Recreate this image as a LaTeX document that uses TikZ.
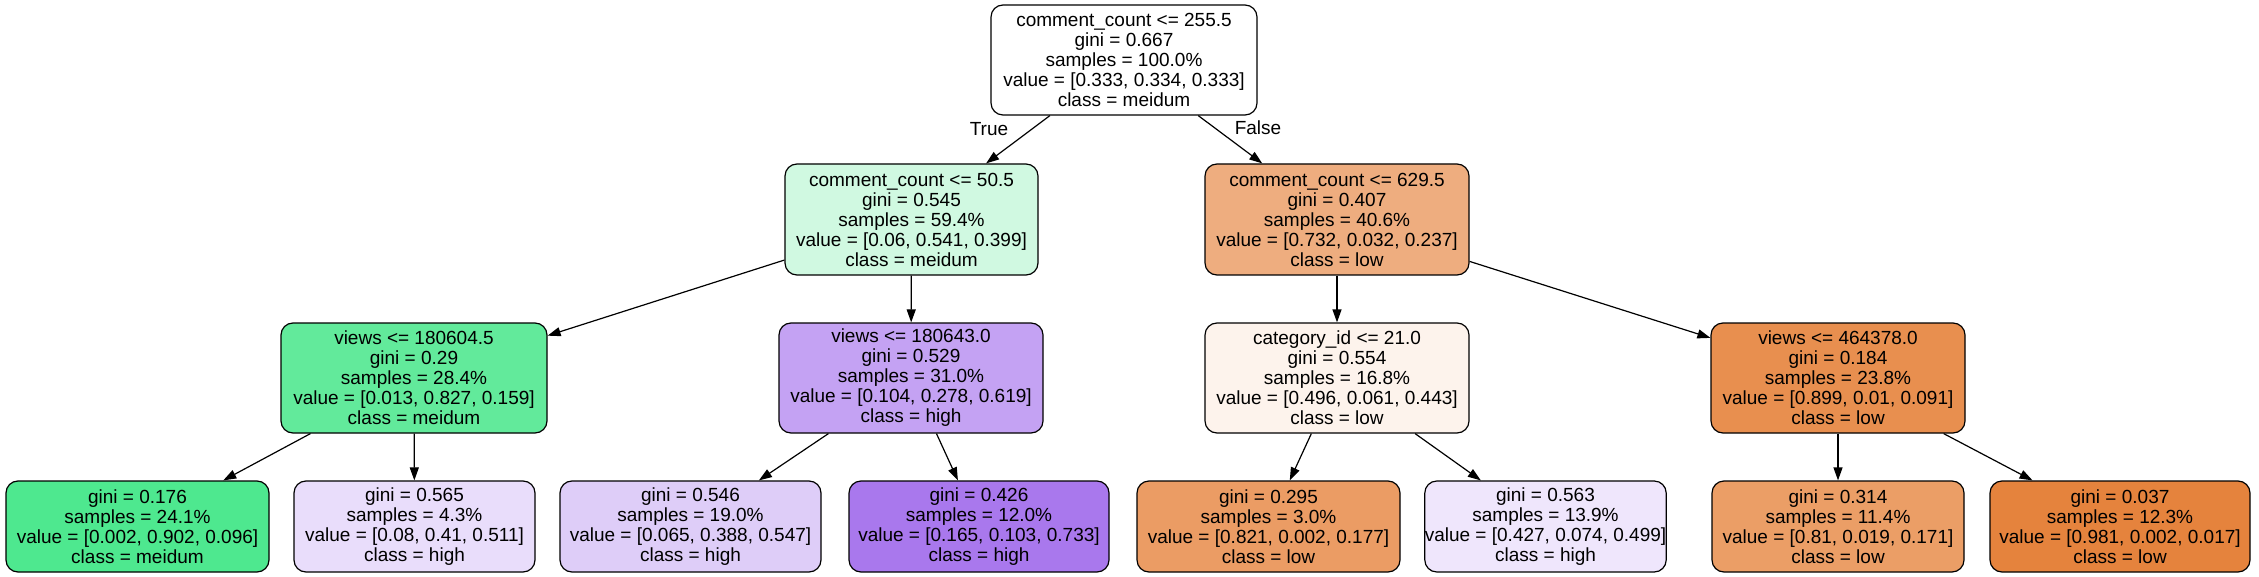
\documentclass[tikz,border=0pt]{standalone}
\usepackage{fontspec}
\setmainfont{Liberation Sans}
\usetikzlibrary{arrows.meta}
\definecolor{cRoot}{HTML}{FFFFFF}
\definecolor{cLa}{HTML}{D0F9E1}
\definecolor{cLb}{HTML}{EEAD7F}
\definecolor{cTa}{HTML}{62EA9B}
\definecolor{cTb}{HTML}{C4A2F3}
\definecolor{cTc}{HTML}{FDF3EC}
\definecolor{cTd}{HTML}{E88F4F}
\definecolor{cF1}{HTML}{4EE88F}
\definecolor{cF2}{HTML}{E9DDFB}
\definecolor{cF3}{HTML}{DECDF8}
\definecolor{cF4}{HTML}{A978ED}
\definecolor{cF5}{HTML}{EB9C64}
\definecolor{cF6}{HTML}{EFE6FC}
\definecolor{cF7}{HTML}{EB9E66}
\definecolor{cF8}{HTML}{E5833D}
\tikzset{
  treenode/.style={draw=black, line width=1.2pt, rounded corners=12pt, inner sep=0pt,
    align=center, font=\fontsize{19}{20}\selectfont},
  inner/.style={treenode, minimum height=110pt},
  leaf/.style={treenode, minimum height=91pt},
  edge/.style={line width=1.2pt, -{Triangle[length=13pt,width=9pt]}},
  lbl/.style={font=\fontsize{19}{20}\selectfont, inner sep=0pt}
}
\begin{document}
\begin{tikzpicture}[x=1pt,y=1pt]
\useasboundingbox (0,0) rectangle (2259,-577);
% root
\node[inner, fill=cRoot, minimum width=266pt] (root) at (1124,-60) {comment\_count <= 255.5\\gini = 0.667\\samples = 100.0\%\\value = [0.333, 0.334, 0.333]\\class = meidum};
% level 2
\node[inner, fill=cLa, minimum width=253pt, minimum height=111pt] (la) at (911.5,-219.5) {comment\_count <= 50.5\\gini = 0.545\\samples = 59.4\%\\value = [0.06, 0.541, 0.399]\\class = meidum};
\node[inner, fill=cLb, minimum width=264pt, minimum height=111pt] (lb) at (1337,-219.5) {comment\_count <= 629.5\\gini = 0.407\\samples = 40.6\%\\value = [0.732, 0.032, 0.237]\\class = low};
% level 3
\node[inner, fill=cTa, minimum width=266pt] (ta) at (414,-378) {views <= 180604.5\\gini = 0.29\\samples = 28.4\%\\value = [0.013, 0.827, 0.159]\\class = meidum};
\node[inner, fill=cTb, minimum width=264pt] (tb) at (911,-378) {views <= 180643.0\\gini = 0.529\\samples = 31.0\%\\value = [0.104, 0.278, 0.619]\\class = high};
\node[inner, fill=cTc, minimum width=264pt] (tc) at (1337,-378) {category\_id <= 21.0\\gini = 0.554\\samples = 16.8\%\\value = [0.496, 0.061, 0.443]\\class = low};
\node[inner, fill=cTd, minimum width=254pt] (td) at (1838,-378) {views <= 464378.0\\gini = 0.184\\samples = 23.8\%\\value = [0.899, 0.01, 0.091]\\class = low};
% leaves
\node[leaf, fill=cF1, minimum width=263pt] (f1) at (137.5,-526.5) {gini = 0.176\\samples = 24.1\%\\value = [0.002, 0.902, 0.096]\\class = meidum};
\node[leaf, fill=cF2, minimum width=241pt] (f2) at (414.5,-526.5) {gini = 0.565\\samples = 4.3\%\\value = [0.08, 0.41, 0.511]\\class = high};
\node[leaf, fill=cF3, minimum width=261pt] (f3) at (690.5,-526.5) {gini = 0.546\\samples = 19.0\%\\value = [0.065, 0.388, 0.547]\\class = high};
\node[leaf, fill=cF4, minimum width=260pt] (f4) at (979,-526.5) {gini = 0.426\\samples = 12.0\%\\value = [0.165, 0.103, 0.733]\\class = high};
\node[leaf, fill=cF5, minimum width=263pt] (f5) at (1268.5,-526.5) {gini = 0.295\\samples = 3.0\%\\value = [0.821, 0.002, 0.177]\\class = low};
\node[leaf, fill=cF6, minimum width=241pt] (f6) at (1545.5,-526.5) {gini = 0.563\\samples = 13.9\%\\value = [0.427, 0.074, 0.499]\\class = high};
\node[leaf, fill=cF7, minimum width=252pt] (f7) at (1838,-526.5) {gini = 0.314\\samples = 11.4\%\\value = [0.81, 0.019, 0.171]\\class = low};
\node[leaf, fill=cF8, minimum width=260pt] (f8) at (2120,-526.5) {gini = 0.037\\samples = 12.3\%\\value = [0.981, 0.002, 0.017]\\class = low};
% edges
\draw[edge] (root) -- (la);
\draw[edge] (root) -- (lb);
\draw[edge] (la) -- (ta);
\draw[edge] (la) -- (tb);
\draw[edge] (lb) -- (tc);
\draw[edge] (lb) -- (td);
\draw[edge] (ta) -- (f1);
\draw[edge] (ta) -- (f2);
\draw[edge] (tb) -- (f3);
\draw[edge] (tb) -- (f4);
\draw[edge] (tc) -- (f5);
\draw[edge] (tc) -- (f6);
\draw[edge] (td) -- (f7);
\draw[edge] (td) -- (f8);
% edge labels
\node[lbl] (ltrue) at (989,-129) {True};
\node[lbl] (lfalse) at (1258,-128) {False};
\end{tikzpicture}
\end{document}
